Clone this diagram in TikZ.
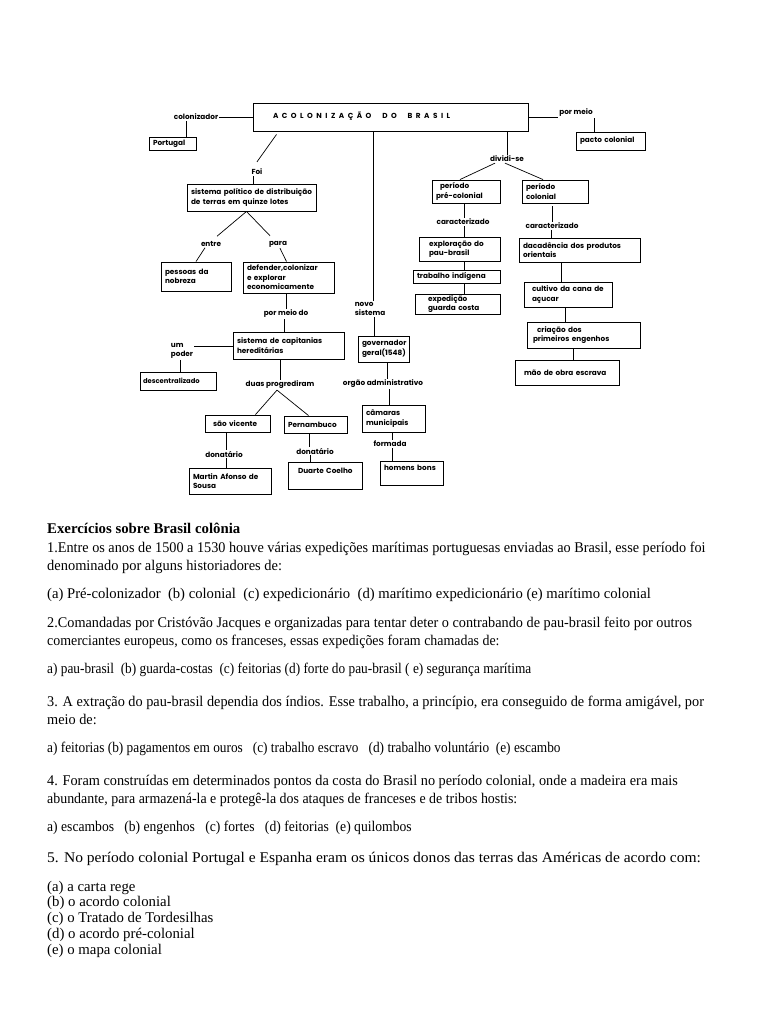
\documentclass[tikz,border=0pt]{standalone}
\usepackage{fontspec}
\setmainfont{Liberation Serif}
\newfontfamily\mapfont{Poppins}
\usetikzlibrary{positioning,shadows}
\newcommand{\squeeze}[2]{\scalebox{#1}[1]{#2}}

\begin{document}
\begin{tikzpicture}[x=1pt,y=-1pt,
  font=\mapfont\bfseries\fontsize{7.3}{9.5}\selectfont,
  box/.style={draw,line width=0.9pt,fill=white,align=left,inner xsep=4pt,inner ysep=1pt,
    drop shadow={shadow xshift=1.1pt,shadow yshift=-1.1pt,opacity=1,fill=black}},
  lbl/.style={inner sep=1pt,align=left},
  link/.style={line width=0.7pt},
  txt/.style={anchor=base west,inner sep=0pt,font=\rmfamily\fontsize{14.8}{18}\selectfont}]
\fill[white] (0,0) rectangle (768,1024);
\useasboundingbox (0,0) rectangle (768,1024);

% title and first level
\node[box,text width=267pt,minimum height=28pt] (title) at (390.5,117)
  {\hspace*{16pt}\raisebox{4pt}{\spaceskip=3.5pt A C O L O N I Z A Ç Ã O \quad D O \quad B R A S I L}};
\node[lbl] (colonizador) at (196,117) {colonizador};
\node[box,text width=39pt,minimum height=13pt] (portugal) at (172.5,143.5) {Portugal};
\node[lbl] (pormeio) at (576,113) {por meio};
\node[box,text width=61pt,minimum height=18pt] (pacto) at (610.5,141) {pacto colonial};

\draw[link] (colonizador.east) -- (colonizador.east -| title.west);
\draw[link] ([xshift=-10pt]colonizador.south) -- ([xshift=-10pt]colonizador.south |- portugal.north);
\draw[link] (title.east) -- (title.east -| pormeio.west);
\draw[link] ([xshift=18pt]pormeio.south) -- ([xshift=18pt]pormeio.south |- pacto.north);

% left branch
\node[lbl] (foi) at (257,172) {Foi};
\node[box,text width=121pt,minimum height=27pt] (sistpol) at (251.5,197.5)
  {sistema político de distribuição\\de terras em quinze lotes};
\node[lbl] (entre) at (211,244) {entre};
\node[lbl] (para) at (278,244) {para};
\node[box,text width=62pt,minimum height=29pt] (pessoas) at (196,276.5) {pessoas da\\nobreza};
\node[box,text width=83pt,minimum height=31pt] (defender) at (288.5,277.5)
  {defender,colonizar\\e explorar\\economicamente};
\node[lbl] (pormeiodo) at (286,314) {por meio do};
\node[box,text width=103pt,minimum height=27pt] (capitanias) at (288.5,345.5)
  {sistema de capitanias\\hereditárias};
\node[lbl] (umpoder) at (182,351) {um\\poder};
\node[box,inner xsep=3pt,text width=70pt,minimum height=18pt,
  font=\mapfont\bfseries\fontsize{6.8}{9.5}\selectfont] (descent) at (178,381) {descentralizado};
\node[lbl] (duas) at (280,385) {duas progrediram};
\node[box,text width=57pt,minimum height=17pt] (saovic) at (237.5,423.5) {\hspace*{4pt}são vicente};
\node[box,text width=55pt,minimum height=17pt] (pernamb) at (315.5,424.5) {Pernambuco};
\node[lbl] (donat1) at (224,454) {donatário};
\node[lbl] (donat2) at (315,451) {donatário};
\node[box,text width=74pt,minimum height=26pt] (martin) at (230,481) {Martin Afonso de\\Sousa};
\node[box,text width=66pt,minimum height=27pt] (duarte) at (325,475.5) {\hspace*{6pt}Duarte Coelho\\\mbox{}};

\draw[link] ([xshift=-114pt,yshift=-3pt]title.south) -- ([yshift=6pt]foi.north);
\draw[link] ([xshift=-4pt]foi.south) -- ([xshift=-4pt]foi.south |- sistpol.north);
\draw[link] ([xshift=-5pt]sistpol.south) -- ([xshift=6pt,yshift=4pt]entre.north);
\draw[link] ([xshift=-5pt]sistpol.south) -- ([xshift=-8pt,yshift=4pt]para.north);
\draw[link] ([xshift=-6pt]entre.south) -- (pessoas.north);
\draw[link] ([xshift=2pt]para.south) -- ([xshift=-2pt]defender.north);
\draw[link] (defender.south -| pormeiodo) -- (pormeiodo.north);
\draw[link] ([xshift=-2pt]pormeiodo.south) -- ([xshift=-2pt]pormeiodo.south |- capitanias.north);
\draw[link] ([yshift=5pt]umpoder.east) -- ([yshift=5pt]umpoder.east -| capitanias.west);
\draw[link] ([xshift=-2pt]umpoder.south) -- ([xshift=-2pt]umpoder.south |- descent.north);
\draw[link] (capitanias.south -| duas) -- (duas.north);
\draw[link] ([xshift=-3pt]duas.south) -- ([xshift=18pt]saovic.north);
\draw[link] ([xshift=-3pt]duas.south) -- ([xshift=-7pt]pernamb.north);
\draw[link] ([xshift=-11pt]saovic.south) -- ([xshift=-11pt]saovic.south |- donat1.north);
\draw[link] ([xshift=2pt]donat1.south) -- ([xshift=2pt]donat1.south |- martin.north);
\draw[link] ([xshift=-6pt]pernamb.south) -- ([xshift=-6pt]pernamb.south |- donat2.north);
\draw[link] ([xshift=-5pt]donat2.south) -- ([xshift=-5pt]donat2.south |- duarte.north);

% middle branch
\node[lbl] (novo) at (370,309) {novo\\sistema};
\node[box,text width=43pt,minimum height=26pt] (governador) at (383.5,349) {governador\\geral(1548)};
\node[lbl] (orgao) at (383,384) {orgão administrativo};
\node[box,text width=55pt,minimum height=27pt] (camaras) at (393.5,418.5) {câmaras\\municipais};
\node[lbl] (formada) at (390,444) {formada};
\node[box,text width=55pt,minimum height=24pt] (homens) at (411.5,473) {homens bons\\\mbox{}};

\draw[link] ([xshift=3pt]novo.north) -- ([xshift=3pt]novo.north |- title.south);
\draw[link] ([xshift=4pt]novo.south) -- ([xshift=4pt]novo.south |- governador.north);
\draw[link] ([xshift=4pt]orgao.north) -- ([xshift=4pt]orgao.north |- governador.south);
\draw[link] ([xshift=6pt]orgao.south) -- ([xshift=6pt]orgao.south |- camaras.north);
\draw[link] ([xshift=2pt]formada.north) -- ([xshift=2pt]formada.north |- camaras.south);
\draw[link] ([xshift=2pt]formada.south) -- ([xshift=2pt]formada.south |- homens.north);

% right branch
\node[lbl] (dividi) at (507,159) {dividi-se};
\node[box,text width=60pt,minimum height=23pt] (precol) at (466,191.5) {\hspace*{4pt}período\\pré-colonial};
\node[box,text width=58pt,minimum height=23pt] (colon) at (555,191.5) {período\\colonial};
\node[lbl] (caract1) at (463,222) {caracterizado};
\node[lbl] (caract2) at (552,226) {caracterizado};
\node[box,text width=73pt,minimum height=24pt] (exploracao) at (459.5,249)
  {\hspace*{6pt}exploração do\\\hspace*{6pt}pau-brasil};
\node[box,text width=79pt,minimum height=13pt] (trabalho) at (456.5,276.5) {trabalho indígena};
\node[box,text width=77pt,minimum height=20pt] (expedicao) at (457.5,304)
  {\hspace*{9pt}expedição\\\hspace*{9pt}guarda costa};
\node[box,text width=113pt,minimum height=24pt] (decad) at (579.5,250)
  {dacadência dos produtos\\orientais};
\node[box,text width=80pt,minimum height=25pt] (cultivo) at (568,294.5)
  {\hspace*{4pt}cultivo da cana de\\\hspace*{4pt}açucar};
\node[box,text width=105pt,minimum height=26pt] (criacao) at (583.5,335)
  {\hspace*{6pt}criação dos\\\hspace*{2pt}primeiros engenhos};
\node[box,text width=96pt,minimum height=25pt] (maoobra) at (567,372.5) {\hspace*{5pt}mão de obra escrava};

\draw[link] (dividi.north) -- (dividi.north |- title.south);
\draw[link] ([xshift=-12pt]dividi.south) -- ([xshift=-6pt]precol.north);
\draw[link] ([xshift=-2pt]dividi.south) -- ([xshift=-12pt]colon.north);
\draw[link] (caract1.north -| 464,0) -- (precol.south -| 464,0);
\draw[link] (caract1.south -| 464,0) -- (exploracao.north -| 464,0);
\draw[link] (exploracao.south -| 464,0) -- (trabalho.north -| 464,0);
\draw[link] (trabalho.south -| 464,0) -- (expedicao.north -| 464,0);
\draw[link] (caract2.north -| 552,0) -- ([yshift=-3pt]colon.south -| 552,0);
\draw[link] (caract2.south -| 551,0) -- (decad.north -| 551,0);
\draw[link] (decad.south -| 561,0) -- (cultivo.north -| 561,0);
\draw[link] (cultivo.south -| 565,0) -- (criacao.north -| 565,0);
\draw[link] (criacao.south -| 573,0) -- (maoobra.north -| 573,0);

% exercises
\node[txt] (t1) at (47,533) {\squeeze{1.0}{\bfseries Exercícios sobre Brasil colônia}};
\node[txt] (t2) at (47,552) {\squeeze{0.962}{1.Entre os anos de 1500 a 1530 houve várias expedições marítimas portuguesas enviadas ao Brasil, esse período foi}};
\node[txt] (t3) at (47,570) {\squeeze{0.975}{denominado por alguns historiadores de:}};
\node[txt] (t4) at (47,598) {\squeeze{0.99}{(a) Pré-colonizador\ \ (b) colonial\ \ (c) expedicionário\ \ (d) marítimo expedicionário (e) marítimo colonial}};
\node[txt] (t5) at (47,627) {\squeeze{0.963}{2.Comandadas por Cristóvão Jacques e organizadas para tentar deter o contrabando de pau-brasil feito por outros}};
\node[txt] (t6) at (47,645) {\squeeze{0.94}{comerciantes europeus, como os franceses, essas expedições foram chamadas de:}};
\node[txt] (t7) at (47,673) {\squeeze{0.9}{a) pau-brasil\ \ (b) guarda-costas\ \ (c) feitorias (d) forte do pau-brasil ( e) segurança marítima}};
\node[txt] (t8) at (47,706) {\squeeze{0.965}{3. A extração do pau-brasil dependia dos índios. Esse trabalho, a princípio, era conseguido de forma amigável, por}};
\node[txt] (t9) at (47,724) {\squeeze{0.965}{meio de:}};
\node[txt] (t10) at (47,752) {\squeeze{0.9}{a) feitorias (b) pagamentos em ouros\ \ \ (c) trabalho escravo\ \ \ (d) trabalho voluntário\ \ (e) escambo}};
\node[txt] (t11) at (47,785) {\squeeze{0.965}{4. Foram construídas em determinados pontos da costa do Brasil no período colonial, onde a madeira era mais}};
\node[txt] (t12) at (47,803) {\squeeze{0.94}{abundante, para armazená-la e protegê-la dos ataques de franceses e de tribos hostis:}};
\node[txt] (t13) at (47,831) {\squeeze{0.92}{a) escambos\ \ \ (b) engenhos\ \ \ (c) fortes\ \ \ (d) feitorias\ \ (e) quilombos}};
\node[txt] (t14) at (47,862) {\squeeze{1.05}{5. No período colonial Portugal e Espanha eram os únicos donos das terras das Américas de acordo com:}};
\node[txt] (t15) at (47,891) {(a) a carta rege};
\node[txt] (t16) at (47,906) {(b) o acordo colonial};
\node[txt] (t17) at (47,922) {(c) o Tratado de Tordesilhas};
\node[txt] (t18) at (47,938) {(d) o acordo pré-colonial};
\node[txt] (t19) at (47,954) {(e) o mapa colonial};
\end{tikzpicture}
\end{document}
